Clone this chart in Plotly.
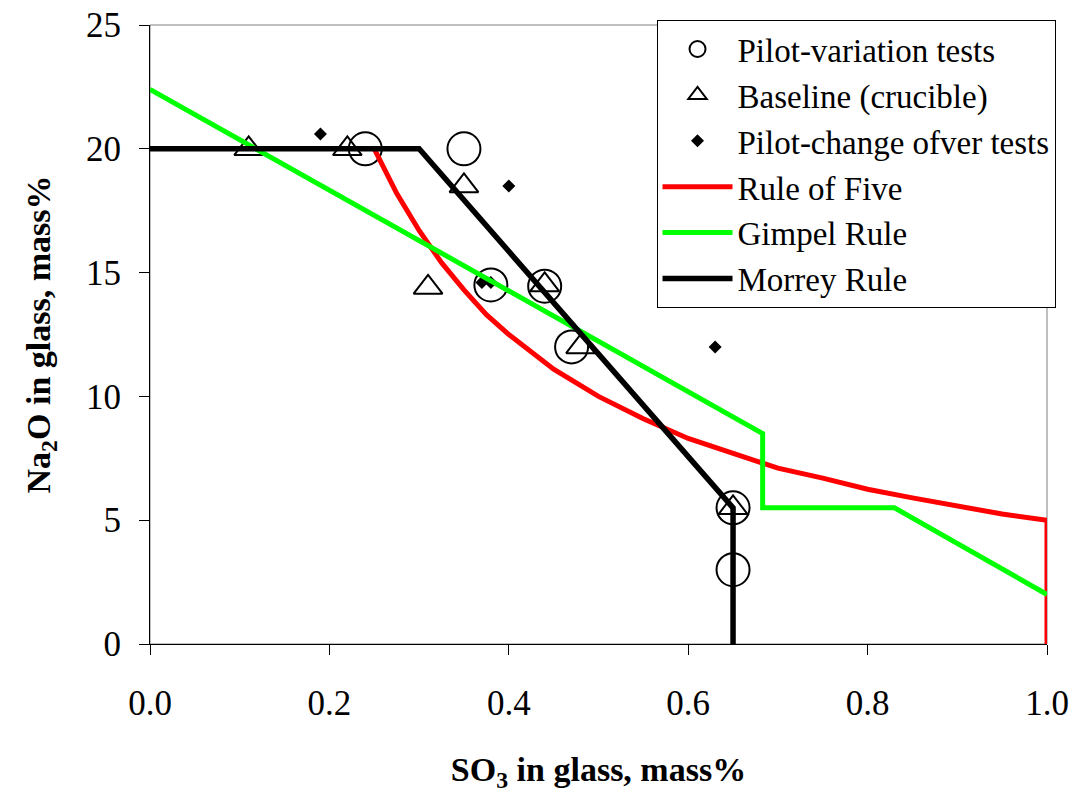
import plotly.graph_objects as go

# Pilot-variation tests (open circles)
pv_so3 = [0.24, 0.35, 0.38, 0.44, 0.47, 0.65, 0.65]
pv_na2o = [20.0, 20.0, 14.5, 14.45, 12.0, 5.5, 3.0]

# Baseline crucible melts (open triangles)
bl_so3 = [0.11, 0.22, 0.35, 0.31, 0.44, 0.48, 0.65]
bl_na2o = [20.0, 20.0, 18.5, 14.4, 14.5, 12.0, 5.5]

# Pilot change-over tests (filled diamonds)
co_so3 = [0.19, 0.37, 0.38, 0.40, 0.63]
co_na2o = [20.6, 14.6, 14.6, 18.5, 12.0]

# Rule of Five curve
r5_so3 = [0.25, 0.275, 0.30, 0.325, 0.35, 0.375, 0.40, 0.45, 0.50, 0.55, 0.60,
          0.65, 0.70, 0.75, 0.80, 0.85, 0.90, 0.95, 1.00, 1.00]
r5_na2o = [20.0, 18.2, 16.7, 15.4, 14.3, 13.3, 12.5, 11.1, 10.0, 9.1, 8.3,
           7.7, 7.1, 6.7, 6.25, 5.9, 5.55, 5.25, 5.0, 0.0]

# Gimpel rule
gr_so3 = [0.0, 0.683, 0.683, 0.83, 1.0]
gr_na2o = [22.4, 8.5, 5.5, 5.5, 2.0]

# Morrey rule
mr_so3 = [0.0, 0.30, 0.65, 0.65]
mr_na2o = [20.0, 20.0, 5.5, 0.0]

x_ticks = [0.0, 0.2, 0.4, 0.6, 0.8, 1.0]
y_ticks = [0, 5, 10, 15, 20, 25]

FONT = "Liberation Serif, Times New Roman, serif"

fig = go.Figure()

fig.add_trace(go.Scatter(
    x=pv_so3, y=pv_na2o, mode="markers", name="Pilot-variation tests",
    marker=dict(symbol="circle-open", size=33, color="black",
                line=dict(width=2, color="black"))))
fig.add_trace(go.Scatter(
    x=bl_so3, y=bl_na2o, mode="markers", name="Baseline (crucible)",
    marker=dict(symbol="triangle-up-open", size=25, color="black",
                line=dict(width=2, color="black"))))
fig.add_trace(go.Scatter(
    x=co_so3, y=co_na2o, mode="markers", name="Pilot-change ofver tests",
    marker=dict(symbol="diamond", size=10, color="black")))
fig.add_trace(go.Scatter(
    x=r5_so3, y=r5_na2o, mode="lines", name="Rule of Five",
    line=dict(color="#ff0000", width=5)))
fig.add_trace(go.Scatter(
    x=gr_so3, y=gr_na2o, mode="lines", name="Gimpel Rule",
    line=dict(color="#00ff00", width=5)))
fig.add_trace(go.Scatter(
    x=mr_so3, y=mr_na2o, mode="lines", name="Morrey Rule",
    line=dict(color="black", width=5.5)))

# thin grey frame around the plotting area
fig.add_shape(type="rect", xref="paper", yref="paper", x0=0, x1=1, y0=0, y1=1,
              line=dict(color="#808080", width=1), layer="below")

fig.update_layout(
    width=1075, height=793,
    margin=dict(l=150, r=28, t=25, b=149),
    paper_bgcolor="white", plot_bgcolor="white",
    font=dict(family=FONT, size=35, color="black"),
    showlegend=True,
    legend=dict(
        x=1.0095, xanchor="right", y=1.008, yanchor="top",
        bgcolor="white", bordercolor="black", borderwidth=1,
        font=dict(family=FONT, size=33, color="black"),
        itemsizing="trace", itemwidth=70, tracegroupgap=0,
    ),
)

fig.update_xaxes(
    range=[0, 1], tickvals=x_ticks, ticktext=[f"{v:.1f}" for v in x_ticks],
    automargin=False,
    showgrid=False, zeroline=False, showline=True, linecolor="black", linewidth=1,
    ticks="outside", ticklen=10, tickcolor="black", ticklabelstandoff=18,
    tickfont=dict(family=FONT, size=35),
    title=dict(text="<b>SO<sub>3</sub> in glass, mass%</b>", standoff=42,
               font=dict(family=FONT, size=34)),
)
fig.update_yaxes(
    range=[0, 25], tickvals=y_ticks,
    automargin=False,
    showgrid=False, zeroline=False, showline=True, linecolor="black", linewidth=1,
    ticks="outside", ticklen=10, tickcolor="black", ticklabelstandoff=11,
    tickfont=dict(family=FONT, size=35),
    title=dict(text="<b>Na<sub>2</sub>O in glass, mass%</b>", standoff=25,
               font=dict(family=FONT, size=34)),
)

fig.write_html("out.html")
